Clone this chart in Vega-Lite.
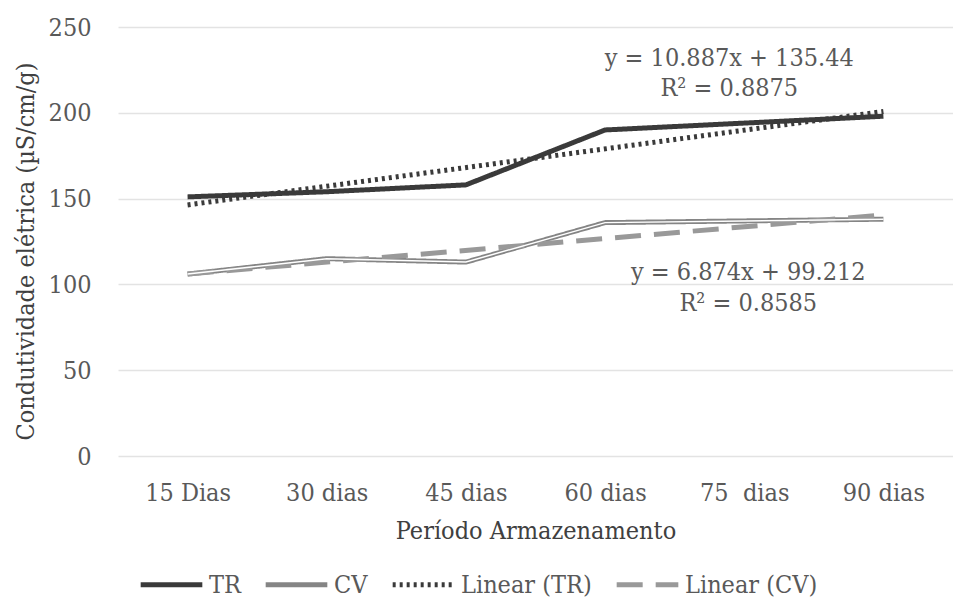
{
  "$schema": "https://vega.github.io/schema/vega-lite/v6.json",
  "width": 835,
  "height": 429,
  "autosize": "none",
  "padding": {"left": 118, "top": 27, "right": 0, "bottom": 153},
  "background": "white",
  "config": {
    "view": {"stroke": null},
    "font": "DejaVu Serif Condensed"
  },
  "datasets": {
    "series": [
      {"dia": "15 Dias", "series": "TR", "v": 151},
      {"dia": "30 dias", "series": "TR", "v": 154},
      {"dia": "45 dias", "series": "TR", "v": 158},
      {"dia": "60 dias", "series": "TR", "v": 190},
      {"dia": "75\u00a0 dias", "series": "TR", "v": 194},
      {"dia": "90 dias", "series": "TR", "v": 198},
      {"dia": "15 Dias", "series": "CV", "v": 106},
      {"dia": "30 dias", "series": "CV", "v": 115},
      {"dia": "45 dias", "series": "CV", "v": 113},
      {"dia": "60 dias", "series": "CV", "v": 136},
      {"dia": "75\u00a0 dias", "series": "CV", "v": 137},
      {"dia": "90 dias", "series": "CV", "v": 138},
      {"dia": "15 Dias", "series": "Linear (TR)", "v": 146.33},
      {"dia": "90 dias", "series": "Linear (TR)", "v": 200.76},
      {"dia": "15 Dias", "series": "Linear (CV)", "v": 106.09},
      {"dia": "90 dias", "series": "Linear (CV)", "v": 140.46}
    ],
    "notesTR": [
      {"dia": "75\u00a0 dias", "v": 232, "label": "y = 10.887x + 135.44"},
      {"dia": "75\u00a0 dias", "v": 214.5, "label": "R² = 0.8875"}
    ],
    "notesCV": [
      {"dia": "75\u00a0 dias", "v": 107.2, "label": "y = 6.874x + 99.212"},
      {"dia": "75\u00a0 dias", "v": 89.2, "label": "R² = 0.8585"}
    ]
  },
  "encoding": {
    "x": {
      "field": "dia",
      "type": "ordinal",
      "sort": ["15 Dias", "30 dias", "45 dias", "60 dias", "75\u00a0 dias", "90 dias"],
      "scale": {"type": "point", "padding": 0.5},
      "axis": {
        "title": "Período Armazenamento",
        "labelAngle": 0,
        "domain": false,
        "ticks": false,
        "grid": false,
        "labelFont": "DejaVu Serif Condensed",
        "labelFontSize": 25,
        "labelColor": "#595959",
        "labelPadding": 24,
        "titleFont": "DejaVu Serif Condensed",
        "titleFontSize": 25,
        "titleFontWeight": "normal",
        "titleColor": "#404040",
        "titlePadding": 13
      }
    },
    "y": {
      "field": "v",
      "type": "quantitative",
      "scale": {"domain": [0, 250], "nice": false, "zero": true},
      "axis": {
        "title": "Condutividade elétrica  (µS/cm/g)",
        "values": [0, 50, 100, 150, 200, 250],
        "domain": false,
        "ticks": false,
        "grid": true,
        "gridColor": "#e3e3e3",
        "gridWidth": 1.5,
        "labelFont": "DejaVu Serif Condensed",
        "labelFontSize": 25,
        "labelColor": "#595959",
        "labelPadding": 27,
        "titleFont": "DejaVu Serif Condensed",
        "titleFontSize": 25,
        "titleFontWeight": "normal",
        "titleColor": "#404040",
        "titlePadding": 10,
        "titleY": 224
      }
    }
  },
  "layer": [
    {
      "data": {"name": "series"},
      "mark": {"type": "line", "strokeCap": "butt"},
      "encoding": {
        "color": {
          "field": "series",
          "type": "nominal",
          "scale": {
            "domain": ["TR", "CV", "Linear (TR)", "Linear (CV)"],
            "range": ["#3a3a3a", "#858585", "#3a3a3a", "#999999"]
          },
          "legend": {
            "title": null,
            "orient": "none",
            "legendX": 20,
            "legendY": 524,
            "direction": "horizontal",
            "symbolType": "stroke",
            "symbolSize": 3800,
            "labelFont": "DejaVu Serif Condensed",
            "labelFontSize": 25,
            "labelColor": "#595959",
            "labelOffset": 4,
            "columnPadding": 14
          }
        },
        "strokeDash": {
          "field": "series",
          "type": "nominal",
          "scale": {
            "domain": ["TR", "CV", "Linear (TR)", "Linear (CV)"],
            "range": [[1, 0], [1, 0], [3, 4], [26, 13]]
          }
        },
        "strokeWidth": {
          "field": "series",
          "type": "nominal",
          "scale": {
            "domain": ["TR", "CV", "Linear (TR)", "Linear (CV)"],
            "range": [5, 5, 3, 4]
          }
        }
      }
    },
    {
      "data": {"name": "series"},
      "transform": [{"filter": "datum.series === 'CV'"}],
      "mark": {"type": "line", "color": "white", "strokeWidth": 1.5}
    },
    {
      "data": {"name": "notesTR"},
      "mark": {"type": "text", "font": "DejaVu Serif Condensed", "fontSize": 25, "color": "#595959", "dx": -15, "baseline": "middle"},
      "encoding": {"text": {"field": "label"}}
    },
    {
      "data": {"name": "notesCV"},
      "mark": {"type": "text", "font": "DejaVu Serif Condensed", "fontSize": 25, "color": "#595959", "dx": 4, "baseline": "middle"},
      "encoding": {"text": {"field": "label"}}
    }
  ]
}
